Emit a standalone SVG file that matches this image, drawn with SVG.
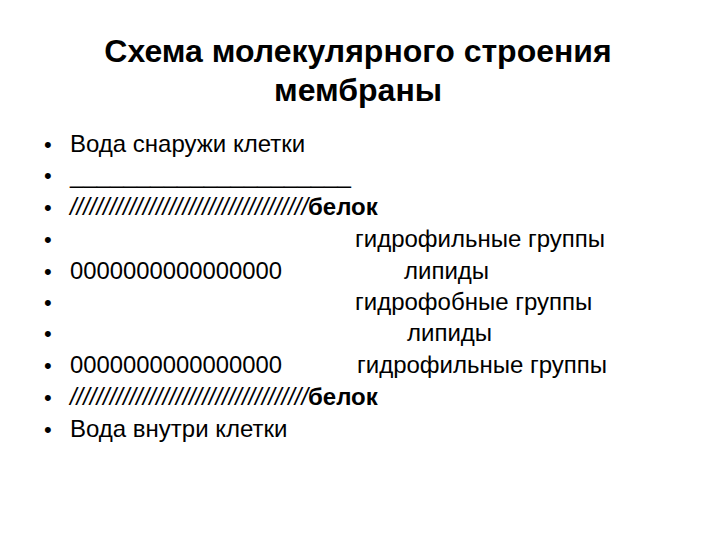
<svg xmlns="http://www.w3.org/2000/svg" width="720" height="540" viewBox="0 0 720 540">
<style>
text{font-family:"Liberation Sans",Arial,sans-serif;fill:#000}
.t{font-size:32px;font-weight:bold;text-anchor:middle}
.b{font-size:24px}
.bul{font-size:22px}
.bold{font-weight:bold}
.it{font-style:italic}
</style>
<rect width="720" height="540" fill="#fff"/>
<g id="title">
<text class="t" x="358" y="62">Схема молекулярного строения</text>
<text class="t" x="358" y="101">мембраны</text>
</g>
<g id="bullets">
<text class="bul" x="44" y="152">•</text>
<text class="bul" x="44" y="183">•</text>
<text class="bul" x="44" y="215">•</text>
<text class="bul" x="44" y="247">•</text>
<text class="bul" x="44" y="279">•</text>
<text class="bul" x="44" y="310">•</text>
<text class="bul" x="44" y="341">•</text>
<text class="bul" x="44" y="373">•</text>
<text class="bul" x="44" y="405">•</text>
<text class="bul" x="44" y="437">•</text>
</g>
<g id="left">
<text class="b" x="70" y="152">Вода снаружи клетки</text>
<text class="b" x="70" y="183" textLength="281" lengthAdjust="spacingAndGlyphs">_____________________</text>
<text class="b" y="215"><tspan class="it" x="70" textLength="238" lengthAdjust="spacingAndGlyphs">////////////////////////////////////</tspan><tspan class="bold">белок</tspan></text>
<text class="b" x="70" y="279" textLength="212" lengthAdjust="spacingAndGlyphs">0000000000000000</text>
<text class="b" x="70" y="373" textLength="212" lengthAdjust="spacingAndGlyphs">0000000000000000</text>
<text class="b" y="405"><tspan class="it" x="70" textLength="238" lengthAdjust="spacingAndGlyphs">////////////////////////////////////</tspan><tspan class="bold">белок</tspan></text>
<text class="b" x="70" y="437">Вода внутри клетки</text>
</g>
<g id="right">
<text class="b" x="355" y="247">гидрофильные группы</text>
<text class="b" x="404" y="279">липиды</text>
<text class="b" x="355" y="310">гидрофобные группы</text>
<text class="b" x="407" y="341">липиды</text>
<text class="b" x="357" y="373">гидрофильные группы</text>
</g>
</svg>
